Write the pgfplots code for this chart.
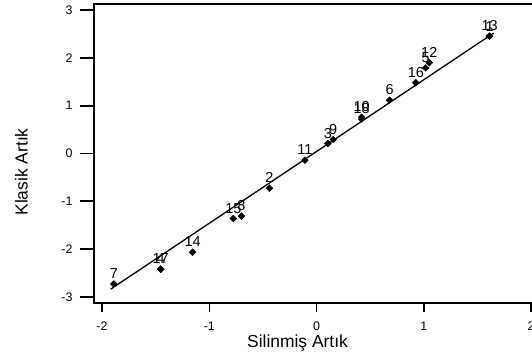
\documentclass[border=0pt]{standalone}
\usepackage{fontspec}
\setmainfont{Liberation Sans}
\usepackage{pgfplots}
\usepackage{pgfplotstable}
\pgfplotsset{compat=1.18}
\pgfplotstableread{
lab x y
1 1.612 2.454
2 -0.44 -0.726
3 0.105 0.209
4 -1.453 -2.42
5 1.016 1.79
6 0.68 1.115
7 -1.89 -2.73
8 -0.70 -1.31
9 0.155 0.293
10 0.42 0.76
11 -0.109 -0.14
12 1.05 1.90
13 1.612 2.454
14 -1.156 -2.065
15 -0.776 -1.36
16 0.925 1.48
17 -1.453 -2.42
18 0.42 0.72
}\resid
\pgfplotsset{
  base/.style={
    at={(0,0)}, anchor=south west,
    scale only axis,
    width=440bp, height=299bp,
    xmin=-2.0746, xmax=2.0261,
    ymin=-3.128, ymax=3.128,
    axis line style={line width=1.6bp},
    tick style={line width=1.6bp, black},
    tick align=outside,
    xtick pos=bottom, ytick pos=left,
    /pgf/number format/assume math mode=true,
    tick label style={font=\fontsize{12.5}{14}\selectfont},
    clip=false,
  }
}
\begin{document}
\begin{tikzpicture}
\begin{axis}[base,
  xtick=\empty, ytick={-3,-2,-1,0,1,2,3},
  major tick length=14bp,
  yticklabel style={xshift=-4bp},
]
\addplot[black, line width=1.3bp] coordinates {(-1.92,-2.84) (1.65,2.52)};
\addplot[only marks, mark=square*, mark size=2.4bp, mark options={rotate=45, black},
  nodes near coords, point meta=explicit symbolic,
  every node near coord/.append style={anchor=south, inner sep=0pt, yshift=5bp,
    font=\fontsize{14.5}{16}\selectfont, black}]
  table[x=x, y=y, meta=lab] {\resid};
\end{axis}
\begin{axis}[base,
  ytick=\empty, xtick={-2,-1,0,1,2},
  major tick length=9bp,
  xticklabel style={yshift=-6bp},
]
\end{axis}
\node[font=\fontsize{17.5}{19}\selectfont, rotate=90] at (-72.5bp,131bp) {Klasik Artık};
\node[font=\fontsize{17.5}{19}\selectfont] at (203.5bp,-40.5bp) {Silinmiş Artık};
\pgfresetboundingbox
\path[use as bounding box] (-94bp,-61bp) rectangle (438bp,303bp);
\end{tikzpicture}
\end{document}
